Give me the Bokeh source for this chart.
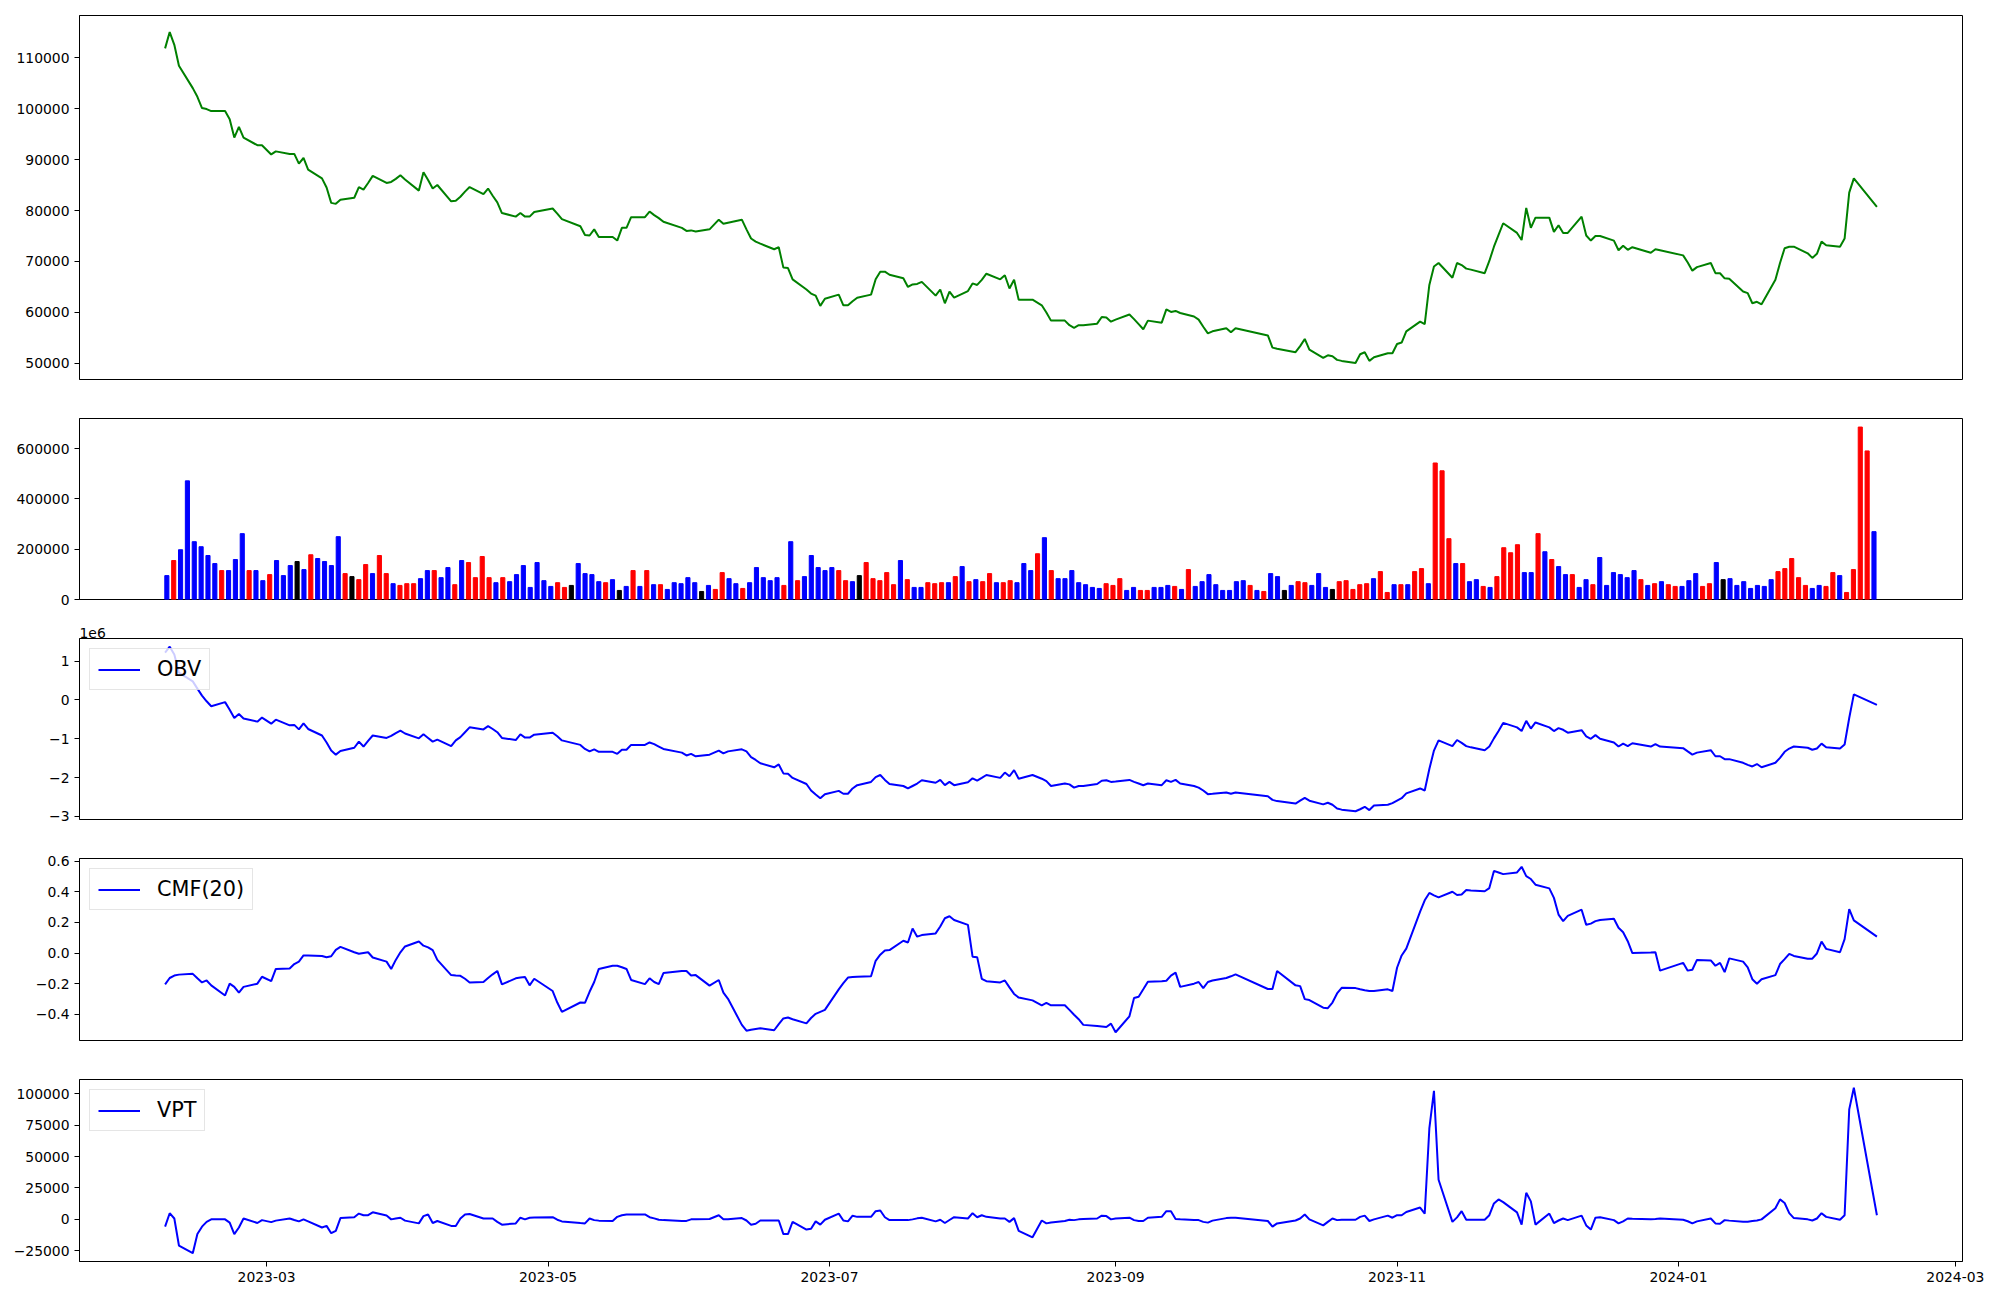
import pandas as pd
from bokeh.plotting import figure
from bokeh.layouts import column
from bokeh.models import (Range1d, FixedTicker, CustomJSTickFormatter, ColumnDataSource)
from bokeh.embed import file_html
from bokeh.resources import INLINE

# ---------------- data ----------------
holidays = ["2023-03-01", "2023-05-01", "2023-05-05", "2023-05-29", "2023-06-06",
            "2023-08-15", "2023-09-28", "2023-09-29", "2023-10-02", "2023-10-03",
            "2023-10-09", "2023-12-25", "2023-12-29", "2024-01-01", "2024-02-09",
            "2024-02-12"]
dates = pd.bdate_range("2023-02-07", "2024-02-13", freq="C", holidays=holidays)

price = [
    111800, 115000, 112500, 108400, 104000, 102300, 100100, 99900, 99500, 99500,
    97900, 94300, 96400, 94300, 92800, 92800, 91000, 91600, 91100, 91100,
    89200, 90300, 88000, 86300, 84500, 81500, 81300, 82100, 82500, 84600,
    84100, 85400, 86800, 85400, 85600, 86200, 86900, 86100, 83900, 87500,
    86000, 84300, 85000, 81800, 81900, 82700, 83700, 84600, 83200, 84300,
    82900, 81600, 79500, 78800, 79500, 78800, 78800, 79700, 80400, 79400,
    78300, 76900, 75200, 75100, 76300, 74800, 74800, 74100, 76600, 76600,
    78700, 78700, 79800, 79100, 78500, 77800, 76600, 76000, 76100, 75900,
    76300, 78200, 77400, 77600, 78200, 76300, 74500, 73900, 73500, 72400,
    72800, 68800, 68700, 66500, 64500, 63700, 63300, 61300, 62700, 63500,
    61400, 61400, 62200, 62900, 63500, 66500, 68000, 68000, 67400, 66700,
    65000, 65500, 65600, 66000, 63300, 64500, 61800, 64100, 62900, 64200,
    65700, 65400, 66400, 67600, 66500, 67300, 64700, 66400, 62500, 62500,
    61400, 60000, 58400, 58400, 57500, 57000, 57500, 57500, 57800, 59100,
    59000, 58200, 58600, 59600, 58700, 57700, 56700, 58400, 58000, 60600,
    60100, 60300, 59900, 59200, 58600, 57200, 55900, 56300, 56900, 56100,
    56900, 55500, 53100, 52900, 52200, 53400, 54800, 52700, 51100, 51600,
    51400, 50700, 50500, 50100, 51800, 52200, 50500, 51200, 52000, 52000,
    53800, 54100, 56300, 58200, 57700, 65400, 69000, 69700, 66800, 69700,
    69300, 68600, 68400, 67700, 70100, 72900, 75200, 77500, 75600, 74200,
    80500, 76600, 78600, 78600, 75800, 77100, 75600, 75600, 78800, 75100,
    74100, 75000, 75000, 74100, 72200, 73100, 72300, 72800, 71700, 72400,
    72200, 71200, 69800, 68200, 68900, 69700, 67700, 67700, 66700, 66600,
    64100, 63800, 61800, 62100, 61600, 66400, 69700, 72600, 72900, 72900,
    71600, 70700, 71500, 73900, 73200, 72900, 74500, 83500, 86300, 80700]

volume = [
    95000, 155000, 198000, 472000, 230000, 210000, 175000, 143000, 115000, 115000,
    159000, 262000, 115000, 115000, 75000, 99000, 155000, 95000, 135000, 151000,
    119000, 178000, 163000, 151000, 135000, 250000, 103000, 91000, 79000, 139000,
    103000, 175000, 103000, 63000, 56000, 63000, 63000, 83000, 115000, 115000,
    87000, 127000, 59000, 155000, 147000, 87000, 171000, 87000, 67000, 87000,
    71000, 99000, 135000, 48000, 147000, 75000, 52000, 67000, 48000, 56000,
    143000, 103000, 99000, 71000, 67000, 79000, 36000, 52000, 115000, 52000,
    115000, 59000, 59000, 40000, 67000, 63000, 87000, 67000, 32000, 56000,
    40000, 107000, 83000, 63000, 44000, 67000, 127000, 87000, 75000, 87000,
    56000, 230000, 75000, 91000, 175000, 127000, 115000, 127000, 115000, 75000,
    71000, 95000, 147000, 83000, 75000, 107000, 59000, 155000, 79000, 48000,
    48000, 67000, 63000, 67000, 67000, 91000, 131000, 71000, 79000, 71000,
    103000, 67000, 67000, 75000, 67000, 143000, 115000, 182000, 246000, 115000,
    83000, 83000, 115000, 67000, 59000, 48000, 44000, 63000, 56000, 83000,
    36000, 48000, 36000, 36000, 48000, 48000, 56000, 52000, 40000, 119000,
    52000, 71000, 99000, 59000, 36000, 36000, 71000, 75000, 56000, 36000,
    32000, 103000, 91000, 36000, 56000, 71000, 67000, 56000, 103000, 48000,
    40000, 71000, 75000, 40000, 59000, 63000, 83000, 111000, 28000, 59000,
    59000, 59000, 111000, 123000, 63000, 543000, 512000, 242000, 143000, 143000,
    71000, 79000, 52000, 48000, 91000, 206000, 186000, 218000, 107000, 107000,
    262000, 190000, 159000, 131000, 99000, 99000, 48000, 79000, 59000, 167000,
    56000, 107000, 99000, 87000, 115000, 79000, 56000, 63000, 71000, 59000,
    52000, 52000, 75000, 103000, 52000, 63000, 147000, 79000, 83000, 56000,
    71000, 44000, 56000, 52000, 79000, 111000, 123000, 163000, 87000, 56000,
    44000, 56000, 52000, 107000, 95000, 28000, 119000, 686000, 591000, 270000]

# r = up (red), b = down (blue), k = unchanged (black)
bar_codes = ("brbbbbbbrb" "bbrbbrbbbk" "brbbbbrkrr" "brrbrrrbbr" "bbrbrrrrbr"
             "bbbbbbbrrk" "bbbbrbkbrb" "rbrbbbbbkb" "rrbbrbbbbb" "rbrbbbbbrr"
             "bkrrrrrbrb" "brrrbrbrbr" "rbrrbbbrbr" "bbbbbbbrrr" "bbrrbbbrbr"
             "bbbbbbbbrb" "rbbkbrrbbb" "krrrrrbrrb" "rbrrbrrrbr" "bbrbrrrrbb"
             "rbrbbrbbrb" "bbbbbrbrbr" "rbbbrrbkbb" "bbbbbrrrrr" "bbrrbrrrrb")

obv_e6 = [
    1.22, 1.369, 1.17, 0.70, 0.477, 0.289, 0.110, -0.037, -0.163, -0.058,
    -0.257, -0.467, -0.362, -0.478, -0.561, -0.457, -0.614, -0.509, -0.656, -0.645,
    -0.761, -0.603, -0.750, -0.918, -1.097, -1.307, -1.411, -1.317, -1.233, -1.076,
    -1.202, -1.055, -0.918, -0.981, -0.929, -0.855, -0.792, -0.866, -0.992, -0.887,
    -0.981, -1.076, -1.023, -1.191, -1.044, -0.960, -0.834, -0.708, -0.761, -0.677,
    -0.750, -0.834, -0.981, -1.034, -0.887, -0.971, -0.971, -0.897, -0.845, -0.939,
    -1.044, -1.160, -1.265, -1.328, -1.275, -1.338, -1.338, -1.391, -1.286, -1.286,
    -1.160, -1.160, -1.097, -1.139, -1.202, -1.265, -1.359, -1.432, -1.391, -1.454,
    -1.412, -1.307, -1.380, -1.327, -1.275, -1.327, -1.474, -1.548, -1.632, -1.737,
    -1.663, -1.894, -1.905, -2.010, -2.167, -2.335, -2.440, -2.534, -2.429, -2.345,
    -2.419, -2.419, -2.282, -2.198, -2.114, -1.989, -1.936, -2.062, -2.167, -2.219,
    -2.282, -2.219, -2.156, -2.072, -2.135, -2.062, -2.198, -2.114, -2.198, -2.125,
    -2.020, -2.083, -2.010, -1.936, -2.010, -1.873, -1.968, -1.810, -2.031, -1.936,
    -2.031, -2.094, -2.219, -2.156, -2.177, -2.261, -2.219, -2.219, -2.167, -2.083,
    -2.072, -2.114, -2.104, -2.062, -2.114, -2.156, -2.198, -2.156, -2.198, -2.072,
    -2.114, -2.062, -2.156, -2.219, -2.261, -2.335, -2.429, -2.419, -2.387, -2.419,
    -2.387, -2.482, -2.576, -2.608, -2.671, -2.597, -2.524, -2.597, -2.692, -2.650,
    -2.702, -2.797, -2.828, -2.870, -2.818, -2.755, -2.839, -2.723, -2.702, -2.660,
    -2.597, -2.534, -2.408, -2.282, -2.335, -1.779, -1.307, -1.044, -1.191, -1.034,
    -1.107, -1.191, -1.223, -1.296, -1.202, -0.992, -0.803, -0.593, -0.708, -0.803,
    -0.541, -0.740, -0.582, -0.708, -0.803, -0.729, -0.771, -0.845, -0.782, -0.939,
    -1.002, -0.908, -1.002, -1.097, -1.202, -1.128, -1.191, -1.118, -1.202, -1.139,
    -1.202, -1.244, -1.328, -1.411, -1.359, -1.296, -1.453, -1.453, -1.527, -1.527,
    -1.621, -1.674, -1.716, -1.653, -1.737, -1.621, -1.495, -1.338, -1.254, -1.202,
    -1.233, -1.286, -1.254, -1.128, -1.223, -1.254, -1.149, -0.467, 0.141, -0.131]

cmf = [
    -0.205, -0.163, -0.147, -0.141, -0.136, -0.165, -0.192, -0.179, -0.211, -0.277,
    -0.200, -0.221, -0.259, -0.221, -0.200, -0.155, -0.184, -0.104, -0.101, -0.072,
    -0.056, -0.016, -0.016, -0.019, -0.027, -0.021, 0.021, 0.040, 0.005, -0.005,
    0.000, 0.005, -0.029, -0.056, -0.104, -0.045, 0.005, 0.043, 0.075, 0.048,
    0.037, 0.019, -0.045, -0.144, -0.147, -0.149, -0.168, -0.192, -0.189, -0.163,
    -0.139, -0.117, -0.205, -0.165, -0.160, -0.157, -0.211, -0.168, -0.248, -0.323,
    -0.384, -0.323, -0.325, -0.253, -0.189, -0.104, -0.083, -0.083, -0.093, -0.104,
    -0.176, -0.203, -0.165, -0.189, -0.203, -0.131, -0.117, -0.117, -0.147, -0.144,
    -0.213, -0.176, -0.259, -0.299, -0.469, -0.507, -0.501, -0.496, -0.491, -0.504,
    -0.464, -0.427, -0.421, -0.432, -0.459, -0.424, -0.397, -0.384, -0.371, -0.237,
    -0.197, -0.160, -0.157, -0.155, -0.152, -0.051, -0.011, 0.016, 0.019, 0.080,
    0.069, 0.160, 0.107, 0.117, 0.128, 0.173, 0.227, 0.240, 0.216, 0.184,
    -0.024, -0.027, -0.168, -0.184, -0.192, -0.179, -0.224, -0.267, -0.291, -0.309,
    -0.341, -0.325, -0.341, -0.341, -0.371, -0.403, -0.432, -0.469, -0.477, -0.480,
    -0.483, -0.461, -0.517, -0.413, -0.293, -0.285, -0.237, -0.187, -0.184, -0.181,
    -0.147, -0.128, -0.221, -0.200, -0.189, -0.229, -0.189, -0.179, -0.163, -0.152,
    -0.139, -0.235, -0.235, -0.117, -0.211, -0.216, -0.301, -0.307, -0.357, -0.360,
    -0.323, -0.264, -0.227, -0.229, -0.237, -0.243, -0.248, -0.248, -0.237, -0.248,
    -0.096, -0.016, 0.029, 0.270, 0.344, 0.392, 0.376, 0.363, 0.400, 0.379,
    0.382, 0.411, 0.408, 0.403, 0.424, 0.536, 0.526, 0.515, 0.526, 0.563,
    0.502, 0.483, 0.446, 0.422, 0.360, 0.251, 0.208, 0.243, 0.283, 0.184,
    0.192, 0.208, 0.216, 0.224, 0.165, 0.136, 0.077, 0.000, 0.003, 0.005,
    -0.115, -0.064, -0.115, -0.109, -0.045, -0.048, -0.083, -0.064, -0.125, -0.035,
    -0.056, -0.093, -0.171, -0.200, -0.171, -0.144, -0.072, -0.040, -0.005, -0.019,
    -0.037, -0.037, -0.003, 0.075, 0.027, 0.005, 0.091, 0.286, 0.213, 0.107]

vpt = [
    -5800, 4900, 700, -20800, -26900, -11700, -5800, -2000, 0, 0,
    -2600, -11700, -6500, 700, -2900, -600, -2200, -1000, 700, -500,
    -1600, 0, -1600, -6500, -5200, -11000, -9100, 1000, 1700, 4600,
    3300, 3300, 5600, 3000, 0, 700, 1300, -1000, -3200, 2600,
    3900, -2900, -1300, -5200, -5200, 700, 3900, 4300, 700, 700,
    700, -2000, -4200, -3200, 1300, 0, 1300, 1500, 1700, -300,
    -1600, -2900, -3200, 700, -600, -1000, -1300, 2000, 3300, 3900,
    3900, 3900, 1700, 800, -300, -600, -1300, -1200, 0, 0,
    300, 3300, 0, 0, 1000, -900, -4200, -3500, -900, -900,
    -900, -11700, -11700, -1900, -8100, -7500, -1600, -4200, -300, 4600,
    -900, -1600, 2900, 2000, 2000, 6500, 7100, 1700, -600, -600,
    -600, 0, 800, 1300, -1600, -300, -2900, -500, 1700, 700,
    4900, 1700, 3300, 2000, 700, 700, -2000, 1000, -9100, -14300,
    -900, -3200, -2500, -1300, -300, -600, 0, 300, 700, 2900,
    2600, 0, 700, 1300, -600, -1300, -1300, 1300, 2000, 6500,
    6500, 300, 0, -600, -600, -2000, -2600, -1000, 1000, 1300,
    1300, -1300, -5800, -3200, -900, 700, 3900, 0, -4800, -2000,
    700, -600, -300, -300, 2000, 3000, -1300, 0, 3000, 1300,
    3300, 3300, 5900, 9400, 4600, 72300, 102200, 31500, -2000, 1600,
    6500, -300, -300, -300, 3300, 12700, 15900, 13700, 5600, -4200,
    21100, 14300, -4200, 4600, -2900, -900, 700, -600, 3000, -4800,
    -8100, 1300, 1700, -600, -3200, -1600, 700, 500, 0, 300,
    700, -300, -1500, -3200, -1600, 700, -3200, -3500, -600, -1000,
    -1900, -1900, -1300, -900, 0, 8800, 15900, 13000, 5000, 1000,
    0, -900, 700, 4900, 2000, -300, 3300, 87500, 104700, 3300]

price_ticks = [50000, 60000, 70000, 80000, 90000, 100000, 110000]
volume_ticks = [0, 200000, 400000, 600000]
obv_ticks = [-3e6, -2e6, -1e6, 0, 1e6]
cmf_ticks = [-0.4, -0.2, 0.0, 0.2, 0.4, 0.6]
vpt_ticks = [-25000, 0, 25000, 50000, 75000, 100000]
month_ticks = ["2023-03-01", "2023-05-01", "2023-07-01", "2023-09-01",
               "2023-11-01", "2024-01-01", "2024-03-01"]

# ---------------- derived sources ----------------
cmap = {"r": "red", "b": "blue", "k": "black"}
bar_colors = [cmap[c] for c in bar_codes]
obv = [v * 1e6 for v in obv_e6]

line_src = ColumnDataSource(dict(x=list(dates), price=price, obv=obv, cmf=cmf, vpt=vpt))
bar_src = ColumnDataSource(dict(x=list(range(len(volume))), top=volume, color=bar_colors))


def ms(ts):
    return pd.Timestamp(ts).timestamp() * 1000.0


span = ms(dates[-1]) - ms(dates[0])
x_range = Range1d(ms(dates[0]) - 0.05 * span, ms(dates[-1]) + 0.05 * span)

FONT = "DejaVu Sans"
TICK_FS = "13.9px"
W_FRAME = 1883
LEFT = 79

int_fmt = CustomJSTickFormatter(code="return Math.round(tick).toString().replace('-', '\u2212');")
obv_fmt = CustomJSTickFormatter(code="return Math.round(tick/1e6).toString().replace('-', '\u2212');")
cmf_fmt = CustomJSTickFormatter(code="var s = tick.toFixed(1); if (s == '-0.0') { s = '0.0'; } return s.replace('-', '\u2212');")
date_fmt = CustomJSTickFormatter(code="var d = new Date(tick); var m = d.getUTCMonth() + 1; return d.getUTCFullYear() + '-' + (m < 10 ? '0' : '') + m;")


def make_fig(frame_h, top, bottom, xr, x_axis=False, title=None):
    p = figure(frame_width=W_FRAME, frame_height=frame_h, x_range=xr,
               toolbar_location=None, output_backend="svg", title=title,
               x_axis_location="below" if x_axis else None,
               x_axis_type="datetime" if x_axis else "linear",
               min_border_left=LEFT, min_border_right=30,
               min_border_top=top, min_border_bottom=bottom)
    p.outline_line_color = "black"
    p.outline_line_width = 1
    p.outline_line_alpha = 1.0
    p.xgrid.visible = False
    p.ygrid.visible = False
    p.background_fill_color = "white"
    p.border_fill_color = "white"
    for ax in p.yaxis + (p.xaxis if x_axis else []):
        ax.major_label_text_font = FONT
        ax.major_label_text_font_size = TICK_FS
        ax.major_label_text_color = "black"
        ax.major_tick_out = 5
        ax.major_tick_in = 0
        ax.major_tick_line_width = 1
        ax.minor_tick_line_color = None
        ax.axis_line_color = "black"
        ax.major_label_standoff = 5
    return p


def style_legend(p):
    lg = p.legend[0]
    lg.location = "top_left"
    lg.label_text_font = FONT
    lg.label_text_font_size = "20.8px"
    lg.label_text_color = "black"
    lg.glyph_width = 42
    lg.glyph_height = 21
    lg.label_height = 21
    lg.label_standoff = 17
    lg.padding = 8
    lg.margin = 10
    lg.spacing = 0
    lg.border_line_color = "#cccccc"
    lg.border_line_width = 1
    lg.background_fill_color = "white"
    lg.background_fill_alpha = 0.8


# price
p1 = make_fig(364, 15, 20, x_range)
p1.y_range = Range1d(46850, 118250)
p1.line("x", "price", source=line_src, line_color="green", line_width=2)
p1.yaxis.ticker = FixedTicker(ticks=price_ticks)
p1.yaxis.formatter = int_fmt

# volume (bars on sequential positions)
p2 = make_fig(181, 19, 20, Range1d(-12.74, 261.91))
p2.y_range = Range1d(0, 720000)
p2.vbar(x="x", top="top", width=0.6, source=bar_src, fill_color="color", line_color="color")
p2.yaxis.ticker = FixedTicker(ticks=volume_ticks)
p2.yaxis.formatter = int_fmt

# OBV (offset text "1e6" as a left-aligned title above the frame)
p3 = make_fig(181, 19, 20, x_range, title="1e6")
p3.title.align = "left"
p3.title.text_font = FONT
p3.title.text_font_size = TICK_FS
p3.title.text_font_style = "normal"
p3.title.text_color = "black"
p3.title.standoff = 2
p3.title.offset = 0
p3.y_range = Range1d(-3.082e6, 1.581e6)
p3.line("x", "obv", source=line_src, line_color="blue", line_width=2, legend_label="OBV")
p3.yaxis.ticker = FixedTicker(ticks=obv_ticks)
p3.yaxis.formatter = obv_fmt
style_legend(p3)

# CMF
p4 = make_fig(182, 19, 20, x_range)
p4.y_range = Range1d(-0.571, 0.617)
p4.line("x", "cmf", source=line_src, line_color="blue", line_width=2, legend_label="CMF(20)")
p4.yaxis.ticker = FixedTicker(ticks=cmf_ticks)
p4.yaxis.formatter = cmf_fmt
style_legend(p4)

# VPT
p5 = make_fig(182, 19, 30, x_range, x_axis=True)
p5.y_range = Range1d(-33520, 111280)
p5.line("x", "vpt", source=line_src, line_color="blue", line_width=2, legend_label="VPT")
p5.yaxis.ticker = FixedTicker(ticks=vpt_ticks)
p5.yaxis.formatter = int_fmt
p5.xaxis.ticker = FixedTicker(ticks=[ms(t) for t in month_ticks])
p5.xaxis.formatter = date_fmt
style_legend(p5)

layout = column(p1, p2, p3, p4, p5, spacing=0)

open("out.html", "w").write(file_html(layout, INLINE))
